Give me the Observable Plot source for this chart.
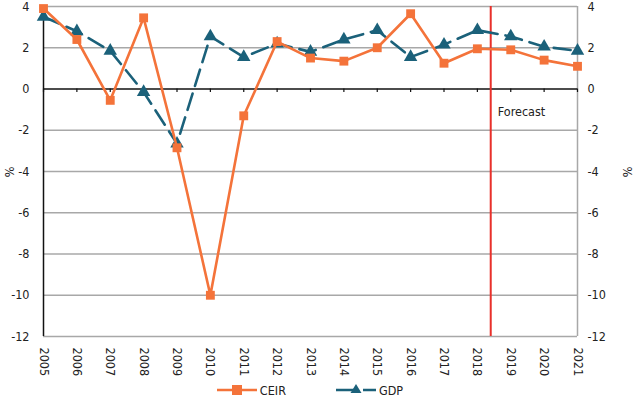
<!DOCTYPE html>
<html>
<head>
<meta charset="utf-8">
<script src="https://cdn.jsdelivr.net/npm/d3@7"></script>
<script src="https://cdn.jsdelivr.net/npm/@observablehq/plot@0.6"></script>
<style>
  body { margin: 0; background: #fff; font-family: "Liberation Sans Narrow", "Arial Narrow", "DejaVu Sans Condensed", sans-serif; }
  #legend { display: flex; justify-content: center; align-items: center; gap: 50px; height: 20px; font-size: 12.5px; color: #222; padding-right: 17px; }
  #legend span { display: inline-flex; align-items: center; gap: 3px; }
</style>
</head>
<body>
<div id="chart"></div>
<script>
const years = [2005,2006,2007,2008,2009,2010,2011,2012,2013,2014,2015,2016,2017,2018,2019,2020,2021];
const ceir = [3.9,2.4,-0.55,3.45,-2.85,-10,-1.3,2.3,1.5,1.35,2.0,3.65,1.25,1.95,1.9,1.4,1.1];
const gdp  = [3.5,2.8,1.85,-0.15,-2.65,2.55,1.55,2.2,1.8,2.4,2.85,1.55,2.15,2.85,2.55,2.05,1.85];
const yTicks = [-12,-10,-8,-6,-4,-2,0,2,4];
const forecastAt = 2018.4;
const seriesNames = ["CEIR", "GDP"];
const colors = ["#f4733a", "#1b617a"];

const ceirData = years.map((y, i) => ({year: y, value: ceir[i]}));
const gdpData = years.map((y, i) => ({year: y, value: gdp[i]}));

const font = '"Liberation Sans Narrow", "Arial Narrow", "DejaVu Sans Condensed", sans-serif';

const plot = Plot.plot({
  width: 637,
  height: 380,
  marginLeft: 43,
  marginRight: 60,
  marginTop: 6,
  marginBottom: 44,
  style: {fontFamily: font, fontSize: "12.5px", color: "#222", background: "#fff"},
  x: {domain: [2005, 2021]},
  y: {domain: [-12, 4]},
  marks: [
    Plot.ruleY(yTicks.filter(d => d !== 0), {stroke: "#a8a8a8", strokeWidth: 1.5}),
    Plot.ruleX([2021], {stroke: "#a8a8a8", strokeWidth: 1.5}),
    Plot.ruleX([2005], {stroke: "#111", strokeWidth: 1.5}),
    Plot.ruleY([0], {stroke: "#111", strokeWidth: 1.5}),
    Plot.ruleX(years, {y1: 0, y2: -0.17, stroke: "#111", strokeWidth: 1.2}),
    Plot.axisY({anchor: "left", ticks: yTicks, tickFormat: d => String(d), tickSize: 0, tickPadding: 14, label: null, fontSize: 12.5}),
    Plot.axisY({anchor: "right", ticks: yTicks, tickFormat: d => String(d), tickSize: 0, tickPadding: 10, label: null, fontSize: 12.5}),
    Plot.axisX({ticks: years, tickFormat: d => String(d), tickSize: 0, tickPadding: 11, tickRotate: 90, label: null, fontSize: 12.5}),
    Plot.ruleX([forecastAt], {stroke: "#e8302a", strokeWidth: 2}),
    Plot.text(["Forecast"], {x: forecastAt, y: -1.1, dx: 7, textAnchor: "start", fontSize: 12.5, fill: "#222"}),
    Plot.line(gdpData, {x: "year", y: "value", stroke: colors[1], strokeWidth: 2.6, strokeDasharray: "17,8"}),
    Plot.dot(gdpData, {x: "year", y: "value", symbol: "triangle", r: 5, fill: colors[1], stroke: "none"}),
    Plot.line(ceirData, {x: "year", y: "value", stroke: colors[0], strokeWidth: 2.6}),
    Plot.dot(ceirData, {x: "year", y: "value", symbol: "square", r: 5, fill: colors[0], stroke: "none"})
  ]
});

// % labels on both sides
const svg = d3.select(plot);
[[10, 172], [628, 172]].forEach(([x, y]) => {
  svg.append("text").attr("transform", `translate(${x},${y}) rotate(-90)`)
    .attr("text-anchor", "middle").attr("dominant-baseline", "middle")
    .style("font-family", font).style("font-size", "12.5px").attr("fill", "#222").text("%");
});

document.getElementById("chart").appendChild(plot);

const legend = document.createElement("div");
legend.id = "legend";
seriesNames.forEach((name, i) => {
  const s = document.createElement("span");
  const dash = i === 1 ? 'stroke-dasharray="22,5"' : '';
  const marker = i === 0
    ? `<rect x="15" y="5" width="10" height="10" fill="${colors[0]}"/>`
    : `<path d="M20,4 L25.5,13 L14.5,13 Z" fill="${colors[1]}"/>`;
  s.innerHTML = `<svg width="40" height="20"><line x1="0" x2="40" y1="10" y2="10" stroke="${colors[i]}" stroke-width="2.6" ${dash}/>${marker}</svg>${name}`;
  legend.appendChild(s);
});
document.body.appendChild(legend);
</script>
</body>
</html>
